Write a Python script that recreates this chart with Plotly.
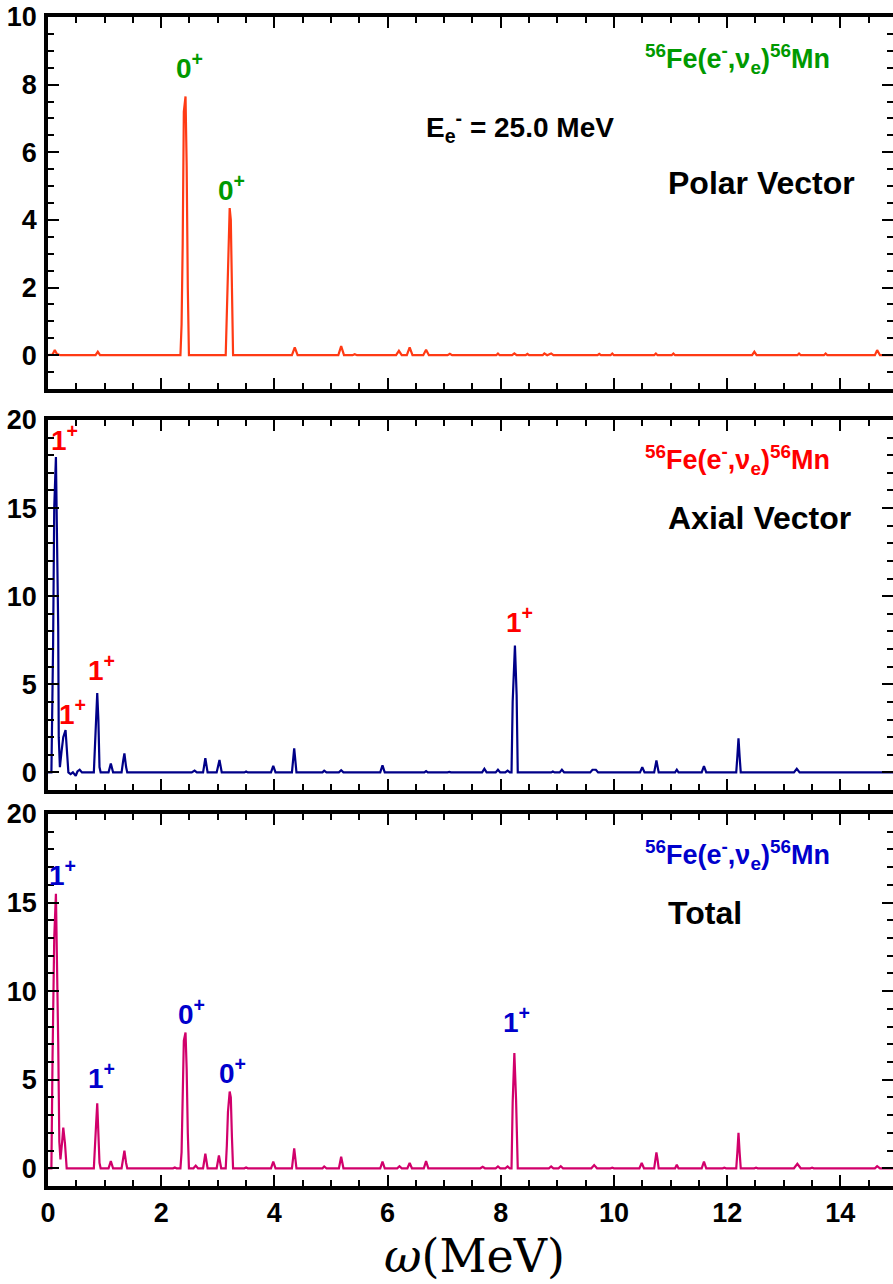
import plotly.graph_objects as go

# ---------------- data ----------------
omega_polar = [0.00, 0.08, 0.12, 0.16, 0.22, 0.84, 0.88, 0.92,
               2.34, 2.36, 2.38, 2.40, 2.43, 2.45, 2.47, 2.49,
               3.14, 3.16, 3.18, 3.21, 3.23, 3.25, 3.27,
               4.31, 4.36, 4.41, 5.13, 5.18, 5.23, 5.38, 5.42, 5.46,
               6.15, 6.20, 6.25, 6.34, 6.39, 6.44, 6.63, 6.68, 6.73,
               7.06, 7.10, 7.14, 7.92, 7.95, 7.98, 8.20, 8.24, 8.28,
               8.44, 8.47, 8.50, 8.74, 8.77, 8.82, 8.89, 8.93,
               9.71, 9.74, 9.77, 9.94, 9.97, 10.00, 10.71, 10.74, 10.77,
               11.02, 11.05, 11.08, 12.44, 12.48, 12.52, 13.24, 13.27, 13.30,
               13.71, 13.74, 13.77, 14.61, 14.65, 14.70, 15.00]
s_polar = [0.0, 0.02, 0.15, 0.03, 0.0, 0.0, 0.10, 0.0,
           0.0, 0.9, 3.3, 7.2, 7.65, 5.6, 2.0, 0.0,
           0.0, 1.3, 3.2, 4.35, 4.0, 1.75, 0.0,
           0.0, 0.23, 0.0, 0.0, 0.27, 0.0, 0.0, 0.03, 0.0,
           0.0, 0.13, 0.0, 0.0, 0.23, 0.0, 0.0, 0.16, 0.0,
           0.0, 0.04, 0.0, 0.0, 0.05, 0.0, 0.0, 0.05, 0.0,
           0.0, 0.04, 0.0, 0.0, 0.05, 0.0, 0.05, 0.0,
           0.0, 0.04, 0.0, 0.0, 0.05, 0.0, 0.0, 0.05, 0.0,
           0.0, 0.05, 0.0, 0.0, 0.10, 0.0, 0.0, 0.05, 0.0,
           0.0, 0.05, 0.0, 0.0, 0.15, 0.0, 0.0]

omega_axial = [0.00, 0.06, 0.09, 0.11, 0.14, 0.16, 0.18, 0.19, 0.21, 0.24, 0.27, 0.31,
               0.33, 0.36, 0.40, 0.44, 0.49, 0.52, 0.56, 0.60,
               0.81, 0.83, 0.85, 0.87, 0.89, 0.91, 0.93,
               1.07, 1.11, 1.15, 1.30, 1.33, 1.35, 1.38, 1.40,
               2.54, 2.59, 2.63, 2.74, 2.78, 2.82, 2.98, 3.03, 3.07,
               3.47, 3.50, 3.53, 3.94, 3.98, 4.02, 4.31, 4.35, 4.39,
               4.85, 4.88, 4.92, 5.14, 5.18, 5.22, 5.87, 5.91, 5.95,
               6.65, 6.68, 6.71, 7.06, 7.09, 7.12, 7.67, 7.71, 7.75,
               7.91, 7.95, 7.99, 8.08, 8.12, 8.16,
               8.19, 8.21, 8.25, 8.28, 8.30,
               8.89, 8.92, 8.95, 9.04, 9.08, 9.12, 9.58, 9.62, 9.68, 9.72,
               10.46, 10.50, 10.54, 10.71, 10.75, 10.79, 11.08, 11.11, 11.14,
               11.55, 11.59, 11.63, 12.16, 12.18, 12.20, 12.22, 12.24,
               13.18, 13.23, 13.28, 15.00]
s_axial = [0.0, 0.0, 7.2, 15.0, 17.9, 13.4, 8.3, 2.0, 0.3, 1.2, 2.0, 2.4,
           1.6, 0.0, -0.1, 0.0, -0.2, 0.05, 0.15, 0.0,
           0.0, 2.0, 3.0, 4.5, 3.0, 0.3, 0.0,
           0.0, 0.5, 0.0, 0.0, 0.7, 1.08, 0.3, 0.0,
           0.0, 0.1, 0.0, 0.0, 0.8, 0.0, 0.0, 0.7, 0.0,
           0.0, 0.05, 0.0, 0.0, 0.37, 0.0, 0.0, 1.37, 0.0,
           0.0, 0.1, 0.0, 0.0, 0.12, 0.0, 0.0, 0.4, 0.0,
           0.0, 0.07, 0.0, 0.0, 0.03, 0.0, 0.0, 0.2, 0.0,
           0.0, 0.15, 0.0, 0.0, 0.1, 0.0,
           0.0, 4.0, 7.2, 4.4, 0.0,
           0.0, 0.05, 0.0, 0.0, 0.15, 0.0, 0.0, 0.15, 0.15, 0.0,
           0.0, 0.3, 0.0, 0.0, 0.67, 0.0, 0.0, 0.15, 0.0,
           0.0, 0.35, 0.0, 0.0, 0.9, 1.94, 0.9, 0.0,
           0.0, 0.2, 0.0, 0.0]

omega_total = [0.00, 0.06, 0.08, 0.11, 0.14, 0.16, 0.18, 0.20, 0.22, 0.25, 0.27, 0.30, 0.33,
               0.52, 0.56, 0.60,
               0.81, 0.83, 0.85, 0.87, 0.89, 0.91, 0.93,
               1.07, 1.11, 1.15, 1.30, 1.33, 1.35, 1.38, 1.40,
               2.21, 2.24, 2.27,
               2.34, 2.36, 2.38, 2.40, 2.43, 2.45, 2.47, 2.49,
               2.57, 2.61, 2.65, 2.74, 2.78, 2.82, 2.98, 3.02, 3.06,
               3.14, 3.16, 3.18, 3.21, 3.23, 3.25, 3.27,
               3.47, 3.50, 3.53, 3.94, 3.98, 4.02, 4.31, 4.35, 4.39,
               4.62, 4.65, 4.68, 4.85, 4.88, 4.92, 5.14, 5.18, 5.22,
               5.70, 5.73, 5.76, 5.87, 5.91, 5.95, 6.17, 6.21, 6.25,
               6.35, 6.39, 6.43, 6.64, 6.68, 6.72,
               7.64, 7.68, 7.72, 7.91, 7.95, 7.99, 8.08, 8.12, 8.16,
               8.19, 8.21, 8.24, 8.27, 8.30,
               8.44, 8.47, 8.50, 8.85, 8.89, 8.93, 9.02, 9.06, 9.10,
               9.60, 9.65, 9.70, 9.94, 9.97, 10.00,
               10.45, 10.49, 10.53, 10.71, 10.73, 10.75, 10.77, 10.79,
               11.08, 11.11, 11.14, 11.27, 11.30, 11.33, 11.55, 11.59, 11.63,
               11.92, 11.95, 11.98, 12.16, 12.18, 12.20, 12.22, 12.24,
               12.48, 12.51, 12.54, 13.18, 13.24, 13.30, 13.47, 13.50, 13.53,
               13.71, 13.74, 13.77, 14.61, 14.65, 14.70, 15.00]
s_total = [0.0, 0.0, 6.2, 13.0, 15.5, 11.7, 7.15, 1.5, 0.5, 1.5, 2.3, 1.4, 0.0,
           0.0, 0.02, 0.0,
           0.0, 1.6, 2.5, 3.67, 2.4, 0.3, 0.0,
           0.0, 0.4, 0.0, 0.0, 0.6, 1.0, 0.3, 0.0,
           0.0, 0.05, 0.0,
           0.0, 0.9, 3.3, 7.2, 7.66, 5.6, 2.0, 0.0,
           0.0, 0.15, 0.0, 0.0, 0.82, 0.0, 0.0, 0.72, 0.0,
           0.0, 1.3, 3.2, 4.33, 4.0, 1.75, 0.0,
           0.0, 0.05, 0.0, 0.0, 0.37, 0.0, 0.0, 1.13, 0.0,
           0.0, 0.03, 0.0, 0.0, 0.1, 0.0, 0.0, 0.65, 0.0,
           0.0, 0.03, 0.0, 0.0, 0.37, 0.0, 0.0, 0.12, 0.0,
           0.0, 0.3, 0.0, 0.0, 0.4, 0.0,
           0.0, 0.08, 0.0, 0.0, 0.1, 0.0, 0.0, 0.1, 0.0,
           0.0, 3.7, 6.5, 3.9, 0.0,
           0.0, 0.03, 0.0, 0.0, 0.1, 0.0, 0.0, 0.12, 0.0,
           0.0, 0.18, 0.0, 0.0, 0.03, 0.0,
           0.0, 0.3, 0.0, 0.0, 0.5, 0.9, 0.5, 0.0,
           0.0, 0.2, 0.0, 0.0, 0.02, 0.0, 0.0, 0.38, 0.0,
           0.0, 0.03, 0.0, 0.0, 0.9, 2.0, 0.9, 0.0,
           0.0, 0.03, 0.0, 0.0, 0.25, 0.0, 0.0, 0.03, 0.0,
           0.0, 0.03, 0.0, 0.0, 0.12, 0.0, 0.0]

# peak labels: (omega, strength position, text)
labels_polar_x = [2.50, 3.25]
labels_polar_y = [8.55, 4.95]
labels_polar_t = ["0<sup>+</sup>", "0<sup>+</sup>"]
labels_axial_x = [0.29, 0.44, 0.94, 8.33]
labels_axial_y = [19.0, 3.45, 5.93, 8.66]
labels_axial_t = ["1<sup>+</sup>"] * 4
labels_total_x = [0.25, 0.94, 2.54, 3.26, 8.27]
labels_total_y = [16.67, 5.2, 8.8, 5.52, 8.37]
labels_total_t = ["1<sup>+</sup>", "1<sup>+</sup>", "0<sup>+</sup>", "0<sup>+</sup>", "1<sup>+</sup>"]

panel_titles = ["Polar Vector", "Axial Vector", "Total"]
reaction = "<sup>56</sup>Fe(e<sup>-</sup>,ν<sub>e</sub>)<sup>56</sup>Mn"
energy_label = "E<sub>e</sub><sup>-</sup> = 25.0 MeV"
x_label = "<i>ω</i>(MeV)"

line_colors = ["#FF3A14", "#000088", "#D1006B"]
label_colors = ["#009900", "#FF0000", "#0000CC"]

# ---------------- figure ----------------
fig = go.Figure()
fig.add_trace(go.Scatter(x=omega_polar, y=s_polar, mode="lines",
                         line=dict(color=line_colors[0], width=2.2), xaxis="x", yaxis="y"))
fig.add_trace(go.Scatter(x=omega_axial, y=s_axial, mode="lines",
                         line=dict(color=line_colors[1], width=2.2), xaxis="x2", yaxis="y2"))
fig.add_trace(go.Scatter(x=omega_total, y=s_total, mode="lines",
                         line=dict(color=line_colors[2], width=2.2), xaxis="x3", yaxis="y3"))

H = 1284
top, bot = 17, 98
plot_h = H - top - bot
def dom(p_top, p_bot):
    return [(H - bot - p_bot) / plot_h, (H - bot - p_top) / plot_h]

domains = [dom(17, 389), dom(420, 790), dom(814, 1186)]
yranges = [[-1, 10], [-1, 20], [-1, 20]]
yminor = [0.5, 1, 1]
ytickvals = [[0, 2, 4, 6, 8, 10], [0, 5, 10, 15, 20], [0, 5, 10, 15, 20]]

tickfont = dict(family="Liberation Sans", size=27, color="black", weight="bold")
XR = [0, 14.93]

layout = dict(
    width=893, height=H,
    margin=dict(l=48, r=0, t=top, b=bot, autoexpand=False),
    paper_bgcolor="white", plot_bgcolor="white",
    showlegend=False,
)
for i in range(3):
    xs = "" if i == 0 else str(i + 1)
    ys = "" if i == 0 else str(i + 1)
    layout["xaxis" + xs] = dict(
        range=XR, anchor="y" + ys, domain=[0, 1], automargin=False,
        showline=True, linewidth=3.5, linecolor="black", mirror="ticks",
        ticks="inside", ticklen=11, tickwidth=1.5, tickcolor="black",
        tickvals=[0, 2, 4, 6, 8, 10, 12, 14],
        minor=dict(ticks="inside", ticklen=6, tickwidth=1.5, tickcolor="black", dtick=0.5, tick0=0),
        showgrid=False, zeroline=False,
        showticklabels=(i == 2), tickfont=tickfont,
        matches=None if i == 0 else "x",
    )
    layout["yaxis" + ys] = dict(
        range=yranges[i], domain=domains[i], anchor="x" + xs, automargin=False,
        showline=True, linewidth=3.5, linecolor="black", mirror=False,
        ticks="inside", ticklen=11, tickwidth=1.5, tickcolor="black",
        tickvals=ytickvals[i], ticklabelstandoff=2,
        minor=dict(ticks="inside", ticklen=6, tickwidth=1.5, tickcolor="black", dtick=yminor[i], tick0=0),
        showgrid=False, zeroline=False, tickfont=tickfont,
    )
    # right-hand tick-only axes
    layout["yaxis" + str(i + 4)] = dict(
        range=yranges[i], overlaying="y" + ys, anchor="x" + xs, side="right", automargin=False,
        showline=False, ticks="inside", ticklen=11, tickwidth=1.5, tickcolor="black",
        tickvals=ytickvals[i],
        minor=dict(ticks="inside", ticklen=6, tickwidth=1.5, tickcolor="black", dtick=yminor[i], tick0=0),
        showgrid=False, zeroline=False, showticklabels=False,
    )
fig.update_layout(**layout)

# invisible traces so right-hand axes are drawn
for i in range(3):
    xs = "x" if i == 0 else "x" + str(i + 1)
    fig.add_trace(go.Scatter(x=[XR[0]], y=[yranges[i][0]], mode="markers",
                             marker=dict(opacity=0), xaxis=xs, yaxis="y" + str(i + 4),
                             hoverinfo="skip"))

ann = []
lab_font = dict(family="Liberation Sans", size=28, weight="bold")
sets = [(labels_polar_x, labels_polar_y, labels_polar_t),
        (labels_axial_x, labels_axial_y, labels_axial_t),
        (labels_total_x, labels_total_y, labels_total_t)]
reaction_y = [8.75, 17.75, 17.7]
title_y = [5.1, 14.45, 14.4]
for i, (lx, ly, lt) in enumerate(sets):
    xs = "x" if i == 0 else "x" + str(i + 1)
    ysr = "y" if i == 0 else "y" + str(i + 1)
    for x, y, t in zip(lx, ly, lt):
        ann.append(dict(x=x, y=y, xref=xs, yref=ysr, text=t, showarrow=False,
                        xanchor="center", yanchor="middle",
                        font=dict(lab_font, color=label_colors[i])))
    ann.append(dict(x=10.52, y=reaction_y[i], xref=xs, yref=ysr, text=reaction, showarrow=False,
                    xanchor="left", yanchor="middle",
                    font=dict(family="Liberation Sans", size=27, weight="bold", color=label_colors[i])))
    ann.append(dict(x=10.92, y=title_y[i], xref=xs, yref=ysr, text=panel_titles[i], showarrow=False,
                    xanchor="left", yanchor="middle",
                    font=dict(family="Liberation Sans", size=32, weight="bold", color="black")))
ann.append(dict(x=6.65, y=6.75, xref="x", yref="y", text=energy_label, showarrow=False,
                xanchor="left", yanchor="middle",
                font=dict(family="Liberation Sans", size=28, weight="bold", color="black")))
ann.append(dict(x=0.505, y=-0.0355, xref="paper", yref="paper", text=x_label, showarrow=False,
                xanchor="center", yanchor="top",
                font=dict(family="DejaVu Serif", size=46, color="black")))
fig.update_layout(annotations=ann)

fig.write_html("out.html", config={"displayModeBar": False},
               post_script="document.body.style.margin='0';document.body.style.overflow='hidden';")
